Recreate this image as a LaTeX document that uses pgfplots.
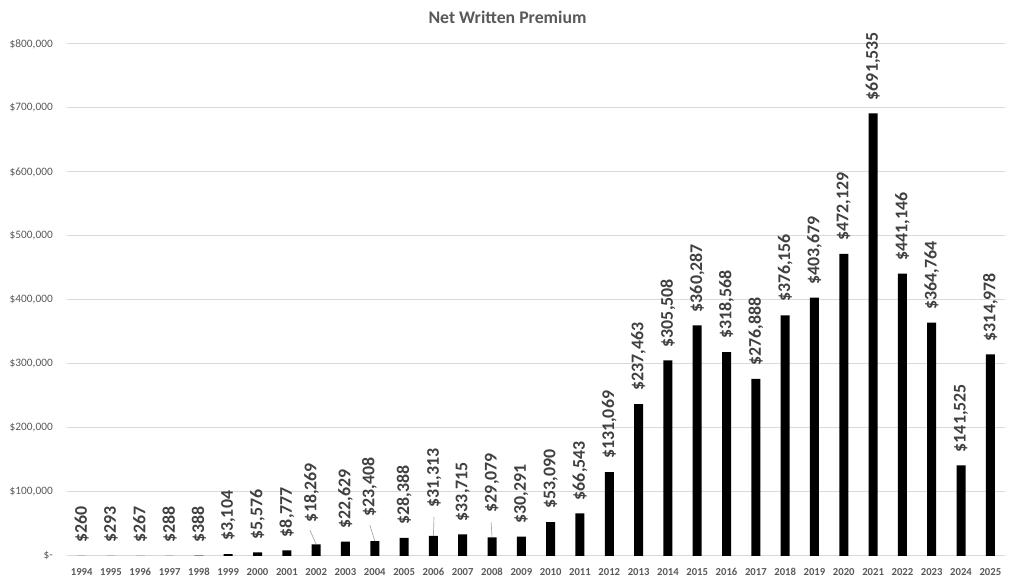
\documentclass[border=0pt]{standalone}
\usepackage{fontspec}
\setmainfont{Carlito}
\usepackage{pgfplots}
\usepackage{pgfplotstable}
\pgfplotsset{compat=1.18}
\definecolor{axgray}{HTML}{595959}
\definecolor{lblgray}{HTML}{404040}
\definecolor{gridgray}{HTML}{D9D9D9}
\definecolor{leadgray}{HTML}{A6A6A6}

\pgfplotstableread{
x v lx ly
0 260 0 260
1 293 1 293
2 267 2 267
3 288 3 288
4 388 4 388
5 3104 5 3104
6 5576 6 5576
7 8777 7 8777
8 18269 7.84 32332
9 22629 9 22629
10 23408 9.82 40596
11 28388 11 28388
12 31313 12.03 54751
13 33715 13 33715
14 29079 14 47829
15 30291 15 30291
16 53090 16 53090
17 66543 17 66543
18 131069 18 131069
19 237463 19 237463
20 305508 20 305508
21 360287 21 360287
22 318568 22 318568
23 276888 23 276888
24 376156 24 376156
25 403679 25 403679
26 472129 26 472129
27 691535 27 691535
28 441146 28 441146
29 364764 29 364764
30 141525 30 141525
31 314978 31 314978
}\nwp

\begin{document}
\begin{tikzpicture}
\begin{axis}[
  scale only axis, width=703.5pt, height=384pt,
  xmin=-0.5, xmax=31.5, ymin=0, ymax=800000,
  xtick={0,...,31},
  xticklabels={1994,1995,1996,1997,1998,1999,2000,2001,2002,2003,2004,2005,2006,2007,2008,2009,2010,2011,2012,2013,2014,2015,2016,2017,2018,2019,2020,2021,2022,2023,2024,2025},
  ytick={0,100000,200000,300000,400000,500000,600000,700000,800000},
  yticklabels={{\$-\hspace{3pt}},{\$100,000},{\$200,000},{\$300,000},{\$400,000},{\$500,000},{\$600,000},{\$700,000},{\$800,000}},
  scaled y ticks=false,
  axis line style={draw=none},
  major tick length=0pt,
  ymajorgrids, grid style={gridgray, line width=0.75pt},
  xticklabel style={font=\bfseries\fontsize{8}{10}\selectfont, text=axgray, anchor=north, inner sep=0pt, yshift=-9pt},
  yticklabel style={font=\fontsize{8.5}{10}\selectfont, text=axgray, anchor=east, inner sep=0pt, xshift=-10.5pt},
  title={Net Written Premium},
  title style={at={(axis description cs:0.4696,1)}, anchor=base, yshift=9pt, font=\bfseries\fontsize{13.3}{16}\selectfont, text=axgray, inner sep=0pt},
  clip=false,
  /pgf/number format/assume math mode=true,
]
\addplot[ybar, bar width=6.75pt, bar shift=0pt, fill=black, draw=none] table[x=x, y=v] {\nwp};
\addplot[draw=none, mark=none, point meta=explicit,
  nodes near coords={\$\pgfmathprintnumber[fixed, precision=0, 1000 sep={,}]{\pgfplotspointmeta}},
  nodes near coords style={rotate=90, anchor=west, inner xsep=9.75pt, inner ysep=0pt, font=\bfseries\fontsize{13.4}{16}\selectfont, text=lblgray}]
  table[x=lx, y=ly, meta=v] {\nwp};
\draw[leadgray, line width=0.5pt] (axis cs:8,18269) -- (axis cs:7.79,40144);
\draw[leadgray, line width=0.5pt] (axis cs:10,23408) -- (axis cs:9.83,48408);
\draw[leadgray, line width=0.5pt] (axis cs:12,31313) -- (axis cs:12.02,61000);
\draw[leadgray, line width=0.5pt] (axis cs:14,29079) -- (axis cs:13.97,52500);
\coordinate (bbll) at (rel axis cs:0,0);
\coordinate (bbur) at (rel axis cs:1,1);
\end{axis}
\pgfresetboundingbox
\useasboundingbox ([shift={(-50.25pt,-20.25pt)}]bbll) rectangle ([shift={(7.5pt,33pt)}]bbur);
\end{tikzpicture}
\end{document}
